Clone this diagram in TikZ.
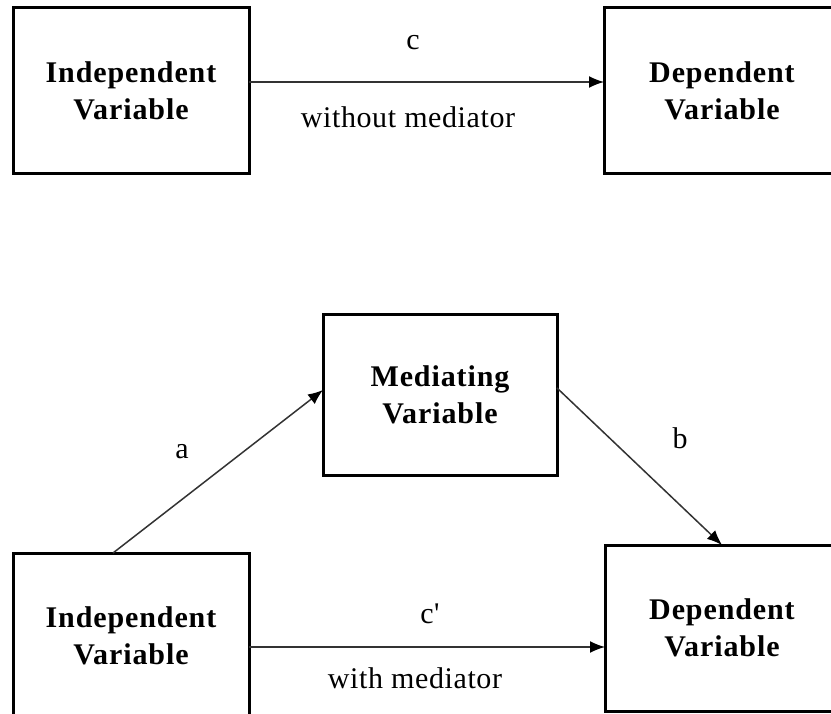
\documentclass[tikz,border=0pt]{standalone}
\usepackage{fontspec}
\setmainfont{Liberation Serif}
\newfontfamily\boxfont[LetterSpace=3]{Liberation Serif}
\newfontfamily\labfont[LetterSpace=2]{Liberation Serif}
\usetikzlibrary{arrows.meta}
\begin{document}
\begin{tikzpicture}[x=1pt,y=-1pt,
  varbox/.style={draw=black, line width=3pt, fill=white, inner sep=0pt, outer sep=0pt,
    minimum width=236pt, minimum height=166pt, align=center,
    font=\boxfont\bfseries\fontsize{30}{37}\selectfont},
  arr/.style={draw=black!80, line width=1.5pt,
    -{Latex[length=15pt,width=12pt,color=black]}},
  lab/.style={font=\labfont\fontsize{30}{36}\selectfont, inner sep=0pt}]
\useasboundingbox (0,0) rectangle (831,714);
\clip (0,0) rectangle (831,714);
\fill[white] (0,0) rectangle (831,714);

% total effect: without mediator
\node[varbox] (iv1) at (131,91) {Independent\\Variable};
\node[varbox] (dv1) at (722,91) {Dependent\\Variable};
\draw[arr] (iv1.east |- 0,82) coordinate (cs1) -- (dv1.west |- cs1);
\node[lab, anchor=base] (lc) at (413,50) {c};
\node[lab, anchor=base] (lwo) at (408,128) {without mediator};

% mediated model
\node[varbox, minimum width=234pt, minimum height=160pt] (med) at (440,395) {Mediating\\Variable};
\node[varbox] (iv2) at (131,636) {Independent\\Variable};
\node[varbox, minimum width=234pt] (dv2) at (722,628) {Dependent\\Variable};

\draw[arr] ([xshift=100pt]iv2.north west) -- ([yshift=-75pt]med.north west);
\draw[arr] ([yshift=-73pt]med.north east) -- (dv2.north);
\draw[arr] (iv2.east |- 0,647) coordinate (cs2) -- (dv2.west |- cs2);

\node[lab, anchor=base] (la) at (182,458) {a};
\node[lab, anchor=base] (lb) at (680,448) {b};
\node[lab, anchor=base] (lcp) at (430,623) {c\char"0027};
\node[lab, anchor=base] (lwi) at (415,688) {with mediator};
\end{tikzpicture}
\end{document}
